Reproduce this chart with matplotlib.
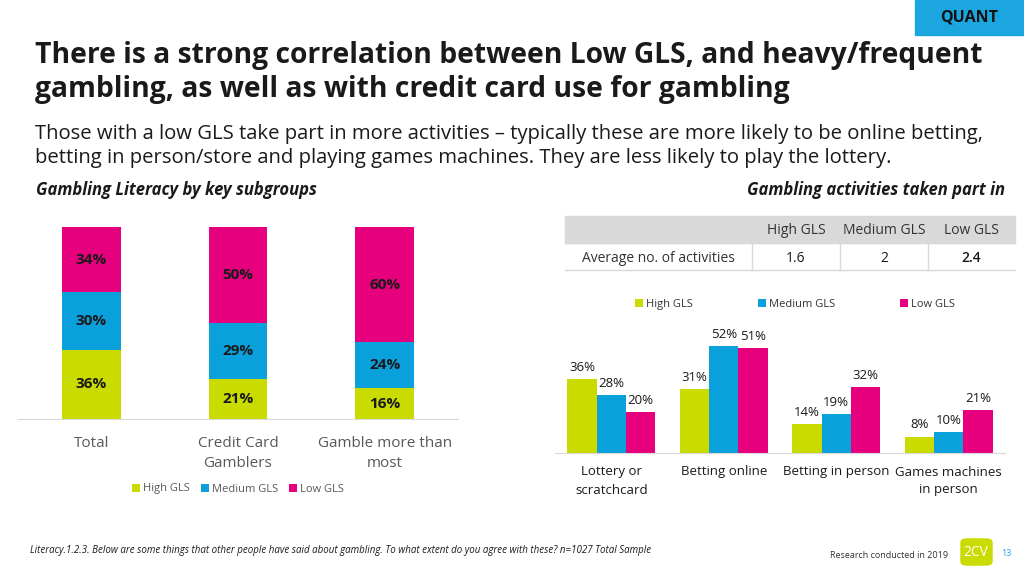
import matplotlib.pyplot as plt
import numpy as np
from matplotlib.patches import Rectangle, FancyBboxPatch

plt.rcParams['font.family'] = ['Open Sans', 'DejaVu Sans']

# =========================
# DATA
# =========================
groups = ["Total", "Credit Card\nGamblers", "Gamble more than\nmost"]
high_gls = [36, 21, 16]
medium_gls = [30, 29, 24]
low_gls = [34, 50, 60]

activities = ["Lottery or\nscratchcard", "Betting online", "Betting in person", "Games machines\nin person"]
act_high = [36, 31, 14, 8]
act_medium = [28, 52, 19, 10]
act_low = [20, 51, 32, 21]

table_cols = ["High GLS", "Medium GLS", "Low GLS"]
table_row_label = "Average no. of activities"
table_vals = ["1.6", "2", "2.4"]

series_names = ["High GLS", "Medium GLS", "Low GLS"]
GREEN = "#C9DB00"
BLUE = "#0AA0DC"
PINK = "#E6007E"
colors = [GREEN, BLUE, PINK]

W, H = 1024, 576
fig = plt.figure(figsize=(W / 100, H / 100), dpi=100)


def fx(px):
    return px / W


def fy(py):
    return 1 - py / H


# =========================
# HEADER
# =========================
fig.patches.append(Rectangle((fx(915), fy(35)), fx(109), 35 / H, transform=fig.transFigure,
                             color="#1BA6E0", zorder=0))
fig.text(fx(969), fy(18), "QUANT", ha="center", va="center", fontsize=11.5, fontweight="bold", color="#111111")

fig.text(fx(35), fy(56), "There is a strong correlation between Low GLS, and heavy/frequent",
         fontsize=20.3, fontweight="bold", color="#1a1a1a", va="center")
fig.text(fx(35), fy(89), "gambling, as well as with credit card use for gambling",
         fontsize=20.3, fontweight="bold", color="#1a1a1a", va="center")
fig.text(fx(35), fy(134), "Those with a low GLS take part in more activities \u2013 typically these are more likely to be online betting,",
         fontsize=14.6, color="#1a1a1a", va="center")
fig.text(fx(35), fy(158), "betting in person/store and playing games machines. They are less likely to play the lottery.",
         fontsize=14.6, color="#1a1a1a", va="center")
fig.text(fx(36), fy(190), "Gambling Literacy by key subgroups", fontsize=12, fontweight="bold",
         fontstyle="italic", color="#1a1a1a", va="center")
fig.text(fx(1005), fy(190), "Gambling activities taken part in", fontsize=12, fontweight="bold",
         fontstyle="italic", color="#1a1a1a", va="center", ha="right")

# =========================
# LEFT: STACKED BARS
# =========================
ax1 = fig.add_axes([fx(18), fy(419), fx(440), 192 / H])
x = np.arange(len(groups))
bottom = np.zeros(len(groups))
for vals, c, name in zip([high_gls, medium_gls, low_gls], colors, series_names):
    vals = np.array(vals) / 100
    ax1.bar(x, vals, 0.4, bottom=bottom, color=c, label=name)
    for xi, b, v in zip(x, bottom, vals):
        ax1.text(xi, b + v / 2, f"{round(v * 100)}%", ha="center", va="center",
                 fontsize=11, fontweight="bold", color="#1a1a1a")
    bottom += vals
ax1.set_xlim(-0.5, 2.5)
ax1.set_ylim(0, 1)
ax1.set_xticks(x)
ax1.set_xticklabels(groups, fontsize=11, color="#595959", linespacing=1.5)
ax1.tick_params(axis="x", length=0, pad=12)
ax1.set_yticks([])
for s in ["top", "right", "left"]:
    ax1.spines[s].set_visible(False)
ax1.spines["bottom"].set_color("#D9D9D9")
ax1.legend(loc="center", bbox_to_anchor=(0.5, (419 - 489) / 192), ncol=3, frameon=False,
           fontsize=8, handlelength=0.7, handleheight=0.7, handletextpad=0.3, columnspacing=1.0,
           labelcolor="#595959")

# =========================
# RIGHT: TABLE
# =========================
col_edges = [565, 752, 840, 928, 1015]
row_edges = [216, 243, 270]
fig.patches.append(Rectangle((fx(565), fy(243)), fx(450), 27 / H, transform=fig.transFigure,
                             color="#D9D9D9", zorder=0))
for xe in col_edges[1:-1]:
    fig.lines.append(plt.Line2D([fx(xe), fx(xe)], [fy(243), fy(270)], transform=fig.transFigure,
                                color="#D9D9D9", lw=1))
for ye in row_edges[1:]:
    fig.lines.append(plt.Line2D([fx(565), fx(1015)], [fy(ye), fy(ye)], transform=fig.transFigure,
                                color="#D9D9D9", lw=1))
for i, col in enumerate(table_cols):
    cx = (col_edges[i + 1] + col_edges[i + 2]) / 2
    fig.text(fx(cx), fy(230), col, ha="center", va="center", fontsize=10, color="#333333")
    fig.text(fx(cx), fy(258), table_vals[i], ha="center", va="center", fontsize=10,
             color="#1a1a1a", fontweight="semibold" if i == 2 else "normal")
fig.text(fx((col_edges[0] + col_edges[1]) / 2), fy(258), table_row_label, ha="center", va="center",
         fontsize=10, color="#333333")

# =========================
# RIGHT: GROUPED BARS
# =========================
ax2 = fig.add_axes([fx(555), fy(453), fx(450), 123.6 / H])
xa = np.arange(len(activities))
bw = 0.26
for k, (vals, c, name) in enumerate(zip([act_high, act_medium, act_low], colors, series_names)):
    pos = xa + (k - 1) * bw
    ax2.bar(pos, vals, bw, color=c, label=name)
    for p, v in zip(pos, vals):
        ax2.text(p, v + 2.5, f"{v}%", ha="center", va="bottom", fontsize=9.5, color="#1a1a1a")
ax2.set_xlim(-0.5, 3.5)
ax2.set_ylim(0, 60)
ax2.set_xticks(xa)
ax2.set_xticklabels(activities, fontsize=9.5, color="#1a1a1a", linespacing=1.5)
ax2.tick_params(axis="x", length=0, pad=9)
ax2.set_yticks([])
for s in ["top", "right", "left"]:
    ax2.spines[s].set_visible(False)
ax2.spines["bottom"].set_color("#D9D9D9")
ax2.legend(loc="lower left", bbox_to_anchor=(70 / 450, (453 - 320) / 123.6, 340 / 450, 0.1),
           mode="expand", ncol=3, frameon=False, fontsize=8, handlelength=0.7, handleheight=0.7,
           handletextpad=0.3, labelcolor="#333333")

# =========================
# FOOTER
# =========================
fig.text(fx(30), fy(550), "Literacy.1.2.3. Below are some things that other people have said about gambling. "
         "To what extent do you agree with these? n=1027 Total Sample",
         fontsize=7, fontstyle="italic", color="#1a1a1a", va="center")
fig.text(fx(830), fy(556), "Research conducted in 2019", fontsize=6.5, color="#333333", va="center")
fig.patches.append(FancyBboxPatch((fx(961), fy(565)), fx(31), 26 / H, boxstyle="round,pad=0,rounding_size=0.006",
                                  transform=fig.transFigure, color="#C9DB00", zorder=0))
fig.text(fx(976), fy(552), "2CV", ha="center", va="center", fontsize=10, color="white")
fig.text(fx(1006), fy(553), "13", ha="center", va="center", fontsize=6.5, color="#1BA6E0")

fig.savefig("out.png", dpi=100)
